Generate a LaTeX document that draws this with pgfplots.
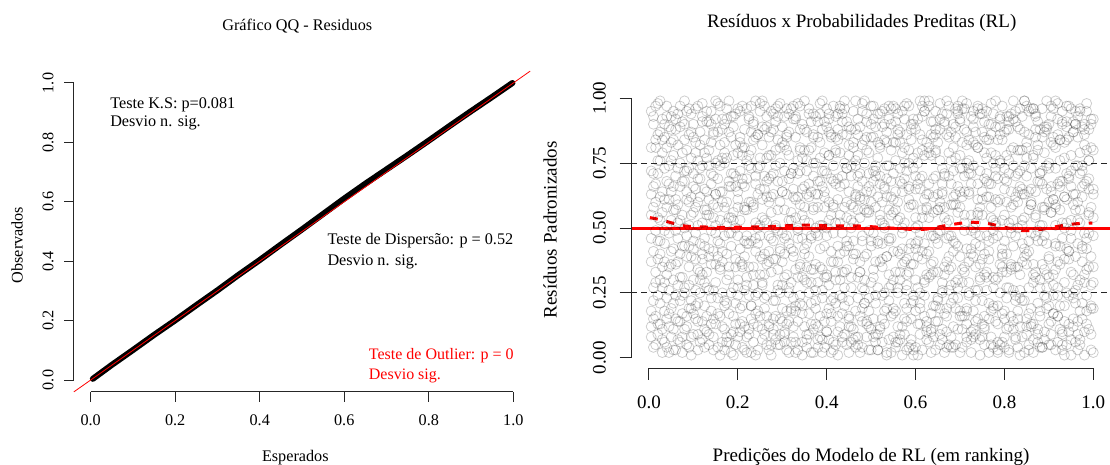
\documentclass[border=0pt]{standalone}
\usepackage{fontspec}
\setmainfont{Liberation Serif}
\usepackage{pgfplots}
\usepackage{pgfplotstable}
\pgfplotsset{compat=1.18}
\newcommand\fs[1]{\fontsize{#1pt}{#1pt}\selectfont}

% Ranked model predictions (x) with ten columns of scaled residuals each
\pgfplotstableread{
x a b c d e f g h i j
0.005 0.46 0.81 0.12 0.95 0.63 0.18 0.72 0.37 0.55 0.08
0.010 0.27 0.58 0.90 0.04 0.71 0.93 0.41 0.66 0.22 0.15
0.015 0.84 0.33 0.16 0.67 0.49 0.05 0.97 0.29 0.81 0.60
0.020 0.09 0.76 0.54 0.38 0.98 0.71 0.24 0.45 0.13 0.86
0.025 0.62 0.21 0.87 0.45 0.13 0.30 0.53 0.99 0.76 0.40
0.030 0.35 0.92 0.07 0.79 0.56 0.84 0.11 0.64 0.27 0.02
0.035 0.73 0.44 0.29 0.18 0.85 0.49 0.90 0.06 0.61 0.37
0.040 0.15 0.68 0.97 0.51 0.32 0.23 0.58 0.81 0.04 0.93
0.045 0.89 0.02 0.61 0.26 0.74 0.67 0.35 0.17 0.48 0.12
0.050 0.41 0.83 0.36 0.93 0.19 0.08 0.76 0.53 0.88 0.64
0.055 0.57 0.11 0.78 0.66 0.30 0.95 0.21 0.42 0.03 0.84
0.060 0.03 0.49 0.24 0.88 0.70 0.36 0.61 0.92 0.57 0.15
0.065 0.94 0.37 0.59 0.14 0.82 0.52 0.07 0.28 0.73 0.46
0.070 0.22 0.75 0.06 0.53 0.40 0.14 0.89 0.66 0.97 0.31
0.075 0.68 0.17 0.91 0.31 0.08 0.79 0.43 0.02 0.24 0.55
0.080 0.50 0.99 0.43 0.72 0.25 0.27 0.68 0.84 0.11 0.90
0.085 0.12 0.64 0.80 0.05 0.47 0.61 0.16 0.39 0.95 0.72
0.090 0.86 0.28 0.35 0.60 0.96 0.04 0.51 0.73 0.19 0.43
0.095 0.39 0.55 0.01 0.77 0.19 0.87 0.94 0.22 0.62 0.08
0.100 0.71 0.09 0.66 0.42 0.90 0.45 0.30 0.56 0.85 0.17
0.105 0.26 0.83 0.48 0.15 0.58 0.20 0.65 0.96 0.38 0.79
0.110 0.97 0.34 0.21 0.69 0.03 0.76 0.09 0.14 0.51 0.60
0.115 0.44 0.73 0.87 0.30 0.62 0.33 0.82 0.69 0.06 0.25
0.120 0.07 0.52 0.14 0.93 0.38 0.98 0.40 0.32 0.74 0.91
0.125 0.65 0.20 0.79 0.46 0.84 0.11 0.57 0.04 0.29 0.43
0.130 0.33 0.91 0.57 0.10 0.27 0.55 0.95 0.77 0.64 0.16
0.135 0.80 0.05 0.39 0.74 0.55 0.42 0.26 0.61 0.91 0.09
0.140 0.18 0.67 0.95 0.23 0.49 0.90 0.71 0.13 0.36 0.83
0.145 0.59 0.41 0.08 0.86 0.70 0.26 0.03 0.87 0.15 0.54
0.150 0.92 0.29 0.63 0.36 0.13 0.63 0.48 0.51 0.99 0.75
0.155 0.04 0.76 0.45 0.58 0.98 0.17 0.87 0.23 0.69 0.39
0.160 0.53 0.16 0.82 0.01 0.34 0.74 0.35 0.97 0.44 0.64
0.165 0.37 0.88 0.25 0.64 0.77 0.06 0.60 0.41 0.12 0.92
0.170 0.75 0.47 0.11 0.90 0.22 0.58 0.20 0.79 0.83 0.03
0.175 0.21 0.60 0.96 0.40 0.06 0.92 0.77 0.08 0.30 0.52
0.180 0.99 0.32 0.54 0.17 0.68 0.35 0.06 0.48 0.66 0.87
0.185 0.48 0.85 0.02 0.71 0.43 0.66 0.54 0.93 0.09 0.25
0.190 0.10 0.56 0.78 0.27 0.89 0.01 0.93 0.16 0.53 0.71
0.195 0.66 0.13 0.35 0.94 0.50 0.82 0.38 0.70 0.21 0.05
0.200 0.30 0.79 0.61 0.08 0.24 0.47 0.64 0.27 0.96 0.58
0.205 0.83 0.42 0.19 0.53 0.72 0.10 0.13 0.85 0.37 0.95
0.210 0.14 0.97 0.67 0.36 0.04 0.69 0.81 0.35 0.78 0.20
0.215 0.57 0.26 0.88 0.12 0.81 0.39 0.45 0.03 0.58 0.66
0.220 0.02 0.69 0.44 0.76 0.31 0.96 0.28 0.57 0.08 0.47
0.225 0.78 0.35 0.09 0.60 0.93 0.24 0.92 0.74 0.44 0.11
0.230 0.45 0.87 0.73 0.20 0.15 0.60 0.02 0.20 0.97 0.80
0.235 0.91 0.06 0.28 0.84 0.58 0.13 0.59 0.90 0.32 0.35
0.240 0.24 0.52 0.99 0.41 0.67 0.85 0.17 0.46 0.70 0.01
0.245 0.63 0.18 0.50 0.03 0.86 0.44 0.86 0.12 0.25 0.73
0.250 0.39 0.74 0.16 0.95 0.47 0.77 0.32 0.65 0.51 0.98
0.255 0.07 0.61 0.82 0.29 0.11 0.28 0.99 0.38 0.89 0.54
0.260 0.70 0.23 0.40 0.65 0.97 0.53 0.09 0.88 0.19 0.32
0.265 0.16 0.93 0.05 0.52 0.36 0.89 0.62 0.24 0.77 0.68
0.270 0.85 0.47 0.69 0.13 0.78 0.03 0.37 0.60 0.41 0.12
0.275 0.33 0.01 0.56 0.87 0.62 0.70 0.78 0.95 0.05 0.46
0.280 0.94 0.71 0.22 0.45 0.09 0.38 0.15 0.11 0.63 0.88
0.285 0.51 0.38 0.91 0.07 0.80 0.16 0.50 0.74 0.96 0.22
0.290 0.05 0.84 0.34 0.68 0.26 0.97 0.93 0.49 0.28 0.57
0.295 0.60 0.15 0.75 0.98 0.42 0.41 0.25 0.05 0.81 0.09
0.300 0.28 0.89 0.48 0.19 0.64 0.64 0.68 0.83 0.14 0.37
0.305 0.82 0.40 0.10 0.57 0.93 0.09 0.06 0.31 0.46 0.72
0.310 0.13 0.63 0.86 0.32 0.03 0.80 0.47 0.96 0.85 0.18
0.315 0.69 0.27 0.53 0.78 0.44 0.25 0.87 0.14 0.02 0.94
0.320 0.42 0.96 0.18 0.06 0.71 0.56 0.19 0.71 0.53 0.29
0.325 0.97 0.08 0.65 0.39 0.23 0.12 0.73 0.41 0.92 0.62
0.330 0.20 0.54 0.92 0.61 0.85 0.93 0.34 0.02 0.18 0.06
0.335 0.76 0.31 0.03 0.49 0.14 0.46 0.98 0.62 0.71 0.50
0.340 0.36 0.80 0.59 0.24 0.97 0.72 0.21 0.88 0.35 0.81
0.345 0.01 0.46 0.77 0.90 0.55 0.31 0.65 0.20 0.06 0.17
0.350 0.58 0.12 0.30 0.66 0.88 0.99 0.42 0.53 0.80 0.40
0.355 0.87 0.72 0.44 0.09 0.35 0.07 0.04 0.76 0.29 0.63
0.360 0.25 0.39 0.96 0.52 0.17 0.62 0.80 0.09 0.67 0.94
0.365 0.64 0.91 0.13 0.81 0.46 0.34 0.29 0.47 0.02 0.21
0.370 0.11 0.57 0.70 0.34 0.02 0.86 0.94 0.85 0.58 0.75
0.375 0.93 0.22 0.48 0.75 0.63 0.19 0.50 0.26 0.13 0.36
0.380 0.47 0.85 0.07 0.58 0.29 0.68 0.12 0.63 0.91 0.04
0.385 0.08 0.35 0.83 0.16 0.94 0.51 0.77 0.98 0.42 0.68
0.390 0.72 0.66 0.26 0.99 0.51 0.02 0.23 0.34 0.07 0.88
0.395 0.31 0.04 0.62 0.43 0.79 0.91 0.58 0.72 0.64 0.14
0.400 0.89 0.50 0.17 0.71 0.10 0.32 0.96 0.10 0.31 0.47
0.405 0.19 0.78 0.94 0.28 0.60 0.78 0.07 0.53 0.87 0.92
0.410 0.55 0.14 0.41 0.85 0.37 0.22 0.69 0.86 0.17 0.02
0.415 0.03 0.97 0.68 0.06 0.74 0.59 0.37 0.23 0.48 0.58
0.420 0.80 0.30 0.52 0.93 0.21 0.05 0.85 0.67 0.79 0.33
0.425 0.43 0.61 0.01 0.37 0.88 0.84 0.16 0.94 0.10 0.69
0.430 0.96 0.24 0.79 0.55 0.12 0.40 0.52 0.30 0.66 0.97
0.435 0.17 0.86 0.33 0.70 0.48 0.94 0.91 0.06 0.23 0.08
0.440 0.67 0.09 0.58 0.20 0.99 0.27 0.33 0.75 0.96 0.41
0.445 0.34 0.73 0.91 0.45 0.05 0.73 0.60 0.43 0.54 0.86
0.450 0.78 0.43 0.16 0.82 0.64 0.15 0.02 0.89 0.12 0.22
0.455 0.06 0.59 0.74 0.31 0.27 0.50 0.88 0.12 0.70 0.53
0.460 0.52 0.95 0.38 0.11 0.83 0.81 0.45 0.58 0.40 0.07
0.465 0.88 0.18 0.63 0.76 0.40 0.08 0.74 0.99 0.04 0.62
0.470 0.23 0.70 0.05 0.57 0.92 0.66 0.08 0.31 0.86 0.78
0.475 0.61 0.33 0.89 0.02 0.54 0.37 0.62 0.71 0.33 0.16
0.480 0.14 0.82 0.47 0.68 0.19 0.98 0.27 0.04 0.95 0.45
0.485 0.99 0.26 0.21 0.39 0.75 0.21 0.84 0.57 0.61 0.30
0.490 0.40 0.64 0.85 0.94 0.08 0.56 0.13 0.80 0.14 0.91
0.495 0.71 0.03 0.56 0.23 0.66 0.12 0.49 0.18 0.79 0.57
0.500 0.29 0.90 0.11 0.60 0.43 0.85 0.97 0.64 0.45 0.03
0.505 0.85 0.48 0.72 0.15 0.97 0.34 0.31 0.92 0.08 0.68
0.510 0.09 0.21 0.37 0.89 0.58 0.74 0.70 0.06 0.72 0.24
0.515 0.62 0.77 0.94 0.44 0.03 0.03 0.09 0.45 0.27 0.83
0.520 0.37 0.12 0.53 0.70 0.81 0.67 0.55 0.82 0.94 0.11
0.525 0.95 0.60 0.24 0.06 0.35 0.44 0.89 0.15 0.38 0.52
0.530 0.18 0.84 0.66 0.51 0.13 0.90 0.25 0.50 0.65 0.96
0.535 0.74 0.39 0.02 0.83 0.69 0.19 0.62 0.87 0.01 0.39
0.540 0.46 0.97 0.45 0.27 0.22 0.57 0.07 0.32 0.92 0.74
0.545 0.02 0.28 0.80 0.62 0.90 0.96 0.46 0.68 0.55 0.16
0.550 0.56 0.71 0.19 0.97 0.41 0.30 0.83 0.08 0.17 0.61
0.555 0.91 0.06 0.57 0.33 0.76 0.64 0.18 0.96 0.83 0.04
0.560 0.27 0.53 0.88 0.12 0.60 0.06 0.94 0.25 0.41 0.86
0.565 0.68 0.87 0.30 0.73 0.07 0.83 0.40 0.54 0.09 0.33
0.570 0.12 0.36 0.64 0.48 0.95 0.42 0.01 0.79 0.67 0.50
0.575 0.81 0.69 0.09 0.21 0.52 0.15 0.75 0.37 0.97 0.92
0.580 0.38 0.14 0.98 0.86 0.28 0.72 0.32 0.03 0.26 0.19
0.585 0.97 0.80 0.42 0.04 0.65 0.33 0.66 0.61 0.75 0.58
0.590 0.21 0.44 0.15 0.59 0.84 0.88 0.05 0.90 0.36 0.07
0.595 0.59 0.01 0.73 0.92 0.36 0.24 0.90 0.22 0.03 0.77
0.600 0.04 0.65 0.50 0.30 0.18 0.54 0.42 0.70 0.88 0.44
0.605 0.75 0.92 0.27 0.67 0.45 0.01 0.79 0.39 0.51 0.13
0.610 0.48 0.25 0.86 0.09 0.99 0.69 0.21 0.13 0.19 0.65
0.615 0.93 0.57 0.03 0.41 0.70 0.38 0.54 0.84 0.80 0.97
0.620 0.16 0.78 0.61 0.95 0.24 0.95 0.99 0.30 0.44 0.29
0.625 0.63 0.32 0.40 0.14 0.57 0.10 0.12 0.58 0.07 0.83
0.630 0.31 0.99 0.81 0.54 0.06 0.79 0.67 0.97 0.63 0.41
0.635 0.86 0.10 0.17 0.78 0.91 0.47 0.36 0.11 0.32 0.02
0.640 0.08 0.62 0.69 0.37 0.33 0.20 0.85 0.47 0.91 0.56
0.645 0.70 0.46 0.95 0.03 0.79 0.86 0.14 0.80 0.20 0.88
0.650 0.44 0.83 0.22 0.63 0.14 0.57 0.57 0.33 0.48 0.23
0.655 0.98 0.19 0.58 0.88 0.49 0.09 0.92 0.05 0.76 0.60
0.660 0.26 0.73 0.07 0.25 0.67 0.63 0.29 0.64 0.11 0.94
0.665 0.54 0.35 0.90 0.70 0.02 0.32 0.71 0.91 0.58 0.17
0.670 0.10 0.94 0.46 0.16 0.86 0.99 0.04 0.19 0.37 0.52
0.675 0.79 0.05 0.34 0.97 0.39 0.26 0.47 0.53 0.85 0.70
0.680 0.35 0.67 0.76 0.47 0.21 0.59 0.87 0.28 0.04 0.08
0.685 0.90 0.41 0.12 0.81 0.59 0.04 0.23 0.72 0.62 0.45
0.690 0.19 0.89 0.63 0.05 0.96 0.77 0.59 0.44 0.29 0.85
0.695 0.66 0.23 0.95 0.56 0.30 0.43 0.11 0.97 0.94 0.27
0.700 0.02 0.58 0.39 0.91 0.73 0.92 0.78 0.18 0.16 0.64
0.705 0.83 0.96 0.04 0.29 0.11 0.16 0.34 0.62 0.73 0.99
0.710 0.49 0.16 0.70 0.64 0.88 0.55 0.96 0.35 0.52 0.33
0.715 0.13 0.75 0.87 0.18 0.42 0.82 0.19 0.08 0.98 0.06
0.720 0.73 0.37 0.25 0.84 0.63 0.29 0.64 0.76 0.24 0.71
0.725 0.40 0.93 0.55 0.10 0.07 0.71 0.02 0.42 0.67 0.49
0.730 0.95 0.08 0.92 0.74 0.50 0.11 0.83 0.89 0.39 0.18
0.735 0.22 0.52 0.14 0.35 0.82 0.48 0.44 0.26 0.09 0.87
0.740 0.61 0.81 0.67 0.96 0.26 0.97 0.15 0.56 0.81 0.55
0.745 0.07 0.30 0.43 0.58 0.94 0.36 0.72 0.01 0.47 0.31
0.750 0.87 0.64 0.08 0.22 0.55 0.61 0.38 0.94 0.13 0.96
0.755 0.32 0.11 0.79 0.85 0.16 0.05 0.91 0.40 0.69 0.12
0.760 0.77 0.95 0.31 0.47 0.71 0.84 0.26 0.68 0.33 0.62
0.765 0.15 0.45 0.62 0.02 0.38 0.41 0.67 0.21 0.90 0.84
0.770 0.58 0.79 0.98 0.67 0.90 0.18 0.08 0.86 0.54 0.05
0.775 0.94 0.27 0.20 0.31 0.04 0.75 0.53 0.49 0.19 0.46
0.780 0.30 0.70 0.51 0.89 0.61 0.52 0.99 0.14 0.78 0.73
0.785 0.69 0.03 0.84 0.13 0.47 0.02 0.31 0.60 0.06 0.20
0.790 0.05 0.86 0.36 0.76 0.25 0.93 0.75 0.92 0.61 0.89
0.795 0.84 0.42 0.06 0.53 0.97 0.39 0.17 0.33 0.35 0.40
0.800 0.45 0.18 0.73 0.08 0.69 0.65 0.55 0.04 0.87 0.15
0.805 0.11 0.60 0.93 0.40 0.33 0.23 0.88 0.78 0.27 0.68
0.810 0.76 0.91 0.27 0.71 0.12 0.88 0.03 0.52 0.02 0.93
0.815 0.36 0.34 0.58 0.94 0.80 0.50 0.48 0.16 0.64 0.35
0.820 0.92 0.74 0.11 0.26 0.53 0.14 0.81 0.99 0.43 0.59
0.825 0.24 0.07 0.47 0.62 0.95 0.70 0.22 0.35 0.91 0.08
0.830 0.60 0.50 0.89 0.04 0.18 0.35 0.64 0.71 0.15 0.80
0.835 0.01 0.88 0.32 0.80 0.66 0.96 0.12 0.23 0.72 0.26
0.840 0.80 0.22 0.65 0.44 0.37 0.08 0.93 0.63 0.51 0.53
0.845 0.42 0.63 0.02 0.99 0.74 0.54 0.39 0.87 0.22 0.99
0.850 0.97 0.40 0.77 0.15 0.09 0.81 0.70 0.12 0.83 0.36
0.855 0.17 0.95 0.41 0.57 0.86 0.27 0.05 0.45 0.03 0.64
0.860 0.65 0.13 0.19 0.73 0.48 0.60 0.59 0.96 0.59 0.12
0.865 0.29 0.77 0.96 0.32 0.02 0.13 0.96 0.07 0.36 0.78
0.870 0.88 0.31 0.54 0.85 0.64 0.94 0.33 0.55 0.93 0.47
0.875 0.06 0.68 0.09 0.49 0.91 0.45 0.80 0.82 0.11 0.21
0.880 0.51 0.04 0.71 0.18 0.27 0.71 0.16 0.30 0.68 0.88
0.885 0.72 0.85 0.36 0.96 0.58 0.04 0.51 0.67 0.45 0.04
0.890 0.34 0.47 0.87 0.07 0.79 0.58 0.89 0.10 0.24 0.57
0.895 0.99 0.19 0.23 0.65 0.44 0.89 0.27 0.74 0.88 0.32
0.900 0.20 0.90 0.60 0.39 0.13 0.31 0.73 0.38 0.05 0.75
0.905 0.56 0.56 0.05 0.83 0.97 0.66 0.09 0.93 0.64 0.14
0.910 0.85 0.28 0.82 0.24 0.61 0.17 0.61 0.17 0.32 0.96
0.915 0.03 0.73 0.44 0.58 0.34 0.99 0.43 0.59 0.81 0.51
0.920 0.67 0.98 0.16 0.92 0.06 0.37 0.86 0.27 0.16 0.24
0.925 0.43 0.36 0.68 0.11 0.84 0.76 0.20 0.84 0.57 0.66
0.930 0.90 0.10 0.91 0.46 0.52 0.03 0.68 0.05 0.95 0.09
0.935 0.14 0.62 0.29 0.77 0.20 0.62 0.01 0.50 0.38 0.83
0.940 0.61 0.84 0.52 0.05 0.89 0.25 0.97 0.91 0.71 0.42
0.945 0.38 0.24 0.97 0.69 0.41 0.85 0.41 0.13 0.10 0.70
0.950 0.96 0.53 0.07 0.33 0.72 0.46 0.78 0.66 0.49 0.01
0.955 0.23 0.91 0.63 0.87 0.15 0.12 0.25 0.32 0.87 0.59
0.960 0.74 0.06 0.39 0.21 0.57 0.90 0.63 0.95 0.26 0.90
0.965 0.09 0.44 0.85 0.60 0.93 0.53 0.14 0.03 0.74 0.28
0.970 0.52 0.79 0.18 0.96 0.30 0.07 0.95 0.57 0.05 0.71
0.975 0.89 0.15 0.74 0.42 0.66 0.72 0.37 0.21 0.62 0.43
0.980 0.32 0.67 0.48 0.10 0.01 0.29 0.82 0.88 0.90 0.86
0.985 0.68 0.98 0.24 0.80 0.46 0.95 0.18 0.42 0.34 0.13
0.990 0.11 0.35 0.88 0.55 0.76 0.48 0.56 0.69 0.76 0.65
0.995 0.81 0.58 0.03 0.28 0.39 0.20 0.90 0.09 0.19 0.92
1.000 0.47 0.02 0.65 0.92 0.19 0.63 0.29 0.80 0.54 0.35
}\resid

\pgfplotsset{
  rstyle/.style={
    scale only axis, clip=false,
    axis x line*=bottom, axis y line*=left,
    axis line style={draw=none},
    tick align=outside,
    tick style={black!85, line width=1pt},
    major tick length=#1,
    /pgf/number format/assume math mode=true,
    /pgf/number format/fixed,
    /pgf/number format/fixed zerofill,
    yticklabel style={rotate=90, anchor=south},
    xticklabel style={anchor=north},
  }
}

\begin{document}
\begin{tikzpicture}[x=1pt,y=1pt]
\useasboundingbox (0,0) rectangle (1110,464);

% ---- QQ plot of the scaled residuals
\begin{axis}[rstyle=9.6pt,
  at={(73.8pt,72.1pt)}, anchor=south west,
  width=456.4pt, height=320.8pt,
  xmin=-0.04, xmax=1.04, ymin=-0.04, ymax=1.04,
  xtick={0,0.2,0.4,0.6,0.8,1}, ytick={0,0.2,0.4,0.6,0.8,1},
  ticklabel style={font=\fs{16.2}, /pgf/number format/precision=1},
  xticklabel shift=10pt, yticklabel shift=7pt,
]
\addplot[black, line width=6pt, line cap=round] coordinates {
  (0.005,0.004) (0.05,0.051) (0.10,0.101) (0.15,0.152) (0.20,0.201)
  (0.25,0.252) (0.30,0.302) (0.35,0.354) (0.40,0.404) (0.45,0.456)
  (0.50,0.507) (0.55,0.559) (0.60,0.611) (0.65,0.661) (0.70,0.709)
  (0.75,0.757) (0.80,0.806) (0.85,0.856) (0.90,0.905) (0.95,0.953)
  (0.998,1.000)};
\addplot[red, line width=0.8pt] coordinates {(-0.04,-0.04) (1.04,1.04)};
\draw[black!85, line width=1pt] (axis cs:0,-0.04) -- (axis cs:1,-0.04);
\draw[black!85, line width=1pt] (axis cs:-0.04,0) -- (axis cs:-0.04,1);
\node[anchor=base west, font=\fs{16.2}] at (axis cs:0.038,0.915) {Teste K.S: p=0.081};
\node[anchor=base west, font=\fs{16.2}] at (axis cs:0.038,0.853) {Desvio n. sig.};
\node[anchor=base west, font=\fs{16.2}] at (axis cs:0.552,0.455) {Teste de Dispersão: p = 0.52};
\node[anchor=base west, font=\fs{16.2}] at (axis cs:0.552,0.387) {Desvio n. sig.};
\node[anchor=base west, font=\fs{16}, text=red] at (axis cs:0.65,0.070) {Teste de Outlier: p = 0};
\node[anchor=base west, font=\fs{16}, text=red] at (axis cs:0.65,0.002) {Desvio sig.};
\end{axis}

% ---- Residuals against ranked predictions
\begin{axis}[rstyle=11.5pt,
  at={(631.2pt,95.9pt)}, anchor=south west,
  width=478.8pt, height=280.2pt,
  xmin=-0.04, xmax=1.0376, ymin=-0.04, ymax=1.04,
  xtick={0,0.2,0.4,0.6,0.8,1}, ytick={0,0.25,0.5,0.75,1},
  xticklabel style={font=\fs{19}, /pgf/number format/precision=1},
  yticklabel style={font=\fs{19}, /pgf/number format/precision=2},
  xticklabel shift=13pt, yticklabel shift=10.4pt,
]
\pgfplotsinvokeforeach{a,b,c,d,e,f,g,h,i,j}{
  \addplot[only marks, mark=o, mark size=5pt,
    mark options={draw=black, draw opacity=0.2, line width=0.75pt}]
    table[x=x, y=#1]{\resid};
}
\addplot[black!85, line width=1.2pt, dash pattern=on 6pt off 4pt] coordinates {(-0.04,0.25) (1.0376,0.25)};
\addplot[black!85, line width=1.2pt, dash pattern=on 6pt off 4pt] coordinates {(-0.04,0.75) (1.0376,0.75)};
\addplot[red, line width=3pt] coordinates {(-0.04,0.5) (1.0376,0.5)};
\addplot[red, line width=3pt, dash pattern=on 8pt off 9pt, smooth] coordinates {
  (0.002,0.540) (0.025,0.532) (0.055,0.518) (0.085,0.507) (0.15,0.503)
  (0.20,0.503) (0.26,0.505) (0.30,0.508) (0.34,0.511) (0.38,0.510)
  (0.43,0.508) (0.47,0.508) (0.51,0.504) (0.56,0.498) (0.60,0.494)
  (0.63,0.497) (0.67,0.510) (0.72,0.522) (0.76,0.518) (0.80,0.503)
  (0.84,0.490) (0.88,0.494) (0.925,0.508) (0.965,0.517) (0.998,0.519)};
\draw[black!85, line width=1pt] (axis cs:0,-0.04) -- (axis cs:1,-0.04);
\draw[black!85, line width=1pt] (axis cs:-0.04,0) -- (axis cs:-0.04,1);
\end{axis}

% ---- titles and axis labels
\node[font=\fs{16.2}, anchor=base] at (297.3,433) {Gráfico QQ - Residuos};
\node[font=\fs{16.2}, anchor=base] at (295.3,2.6) {Esperados};
\node[font=\fs{16.2}, anchor=base, rotate=90] at (22.5,219) {Observados};
\node[font=\fs{19}, anchor=base] at (861.7,436.4) {Resíduos x Probabilidades Preditas (RL)};
\node[font=\fs{19}, anchor=base] at (871,3) {Predições do Modelo de RL (em ranking)};
\node[font=\fs{19}, anchor=base, rotate=90] at (556.5,234) {Resíduos Padronizados};
\end{tikzpicture}
\end{document}
